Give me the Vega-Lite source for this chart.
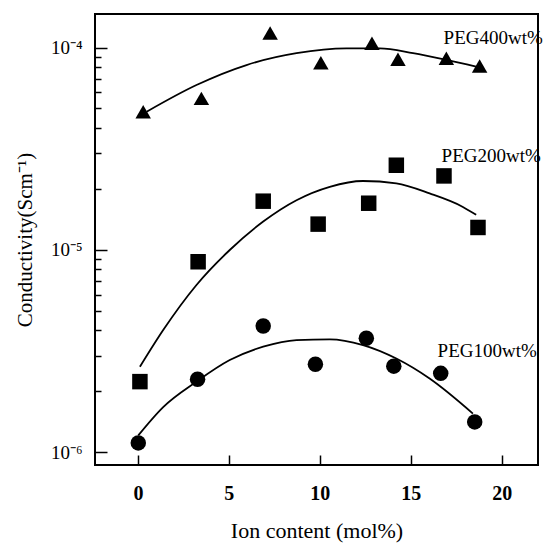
{
  "$schema": "https://vega.github.io/schema/vega-lite/v6.json",
  "width": 443,
  "height": 451,
  "autosize": "none",
  "padding": {"left": 95, "top": 14, "right": 7, "bottom": 79},
  "background": "white",
  "config": {
    "view": {"stroke": "black", "strokeWidth": 2},
    "font": "Liberation Serif",
    "axis": {"grid": false, "domain": false, "tickColor": "black", "labelColor": "black", "titleColor": "black", "tickWidth": 1.5}
  },
  "resolve": {"axis": {"x": "independent", "y": "independent"}},
  "datasets": {
    "points": [
      {"series": "PEG400", "x": 0.29, "y": 4.82e-5},
      {"series": "PEG400", "x": 3.49, "y": 5.61e-5},
      {"series": "PEG400", "x": 7.27, "y": 1.18e-4},
      {"series": "PEG400", "x": 10.06, "y": 8.42e-5},
      {"series": "PEG400", "x": 12.87, "y": 1.05e-4},
      {"series": "PEG400", "x": 14.30, "y": 8.75e-5},
      {"series": "PEG400", "x": 16.96, "y": 8.85e-5},
      {"series": "PEG400", "x": 18.79, "y": 8.11e-5},
      {"series": "PEG200", "x": 0.11, "y": 2.23e-6},
      {"series": "PEG200", "x": 3.31, "y": 8.73e-6},
      {"series": "PEG200", "x": 6.89, "y": 1.74e-5},
      {"series": "PEG200", "x": 9.91, "y": 1.34e-5},
      {"series": "PEG200", "x": 12.69, "y": 1.70e-5},
      {"series": "PEG200", "x": 14.21, "y": 2.62e-5},
      {"series": "PEG200", "x": 16.83, "y": 2.32e-5},
      {"series": "PEG200", "x": 18.70, "y": 1.29e-5},
      {"series": "PEG100", "x": 0.02, "y": 1.11e-6},
      {"series": "PEG100", "x": 3.28, "y": 2.29e-6},
      {"series": "PEG100", "x": 6.89, "y": 4.20e-6},
      {"series": "PEG100", "x": 9.76, "y": 2.72e-6},
      {"series": "PEG100", "x": 12.56, "y": 3.65e-6},
      {"series": "PEG100", "x": 14.07, "y": 2.66e-6},
      {"series": "PEG100", "x": 16.65, "y": 2.45e-6},
      {"series": "PEG100", "x": 18.52, "y": 1.41e-6}
    ],
    "curves": [
      {"series": "PEG400", "x": 0.48, "y": 4.82e-5},
      {"series": "PEG400", "x": 3.22, "y": 6.53e-5},
      {"series": "PEG400", "x": 5.97, "y": 8.20e-5},
      {"series": "PEG400", "x": 8.72, "y": 9.38e-5},
      {"series": "PEG400", "x": 11.47, "y": 9.91e-5},
      {"series": "PEG400", "x": 13.3, "y": 9.91e-5},
      {"series": "PEG400", "x": 15.13, "y": 9.38e-5},
      {"series": "PEG400", "x": 16.96, "y": 8.69e-5},
      {"series": "PEG400", "x": 18.6, "y": 8.05e-5},
      {"series": "PEG200", "x": 0.11, "y": 2.64e-6},
      {"series": "PEG200", "x": 1.39, "y": 4.01e-6},
      {"series": "PEG200", "x": 3.22, "y": 6.70e-6},
      {"series": "PEG200", "x": 5.05, "y": 9.98e-6},
      {"series": "PEG200", "x": 6.89, "y": 1.38e-5},
      {"series": "PEG200", "x": 8.72, "y": 1.76e-5},
      {"series": "PEG200", "x": 10.55, "y": 2.05e-5},
      {"series": "PEG200", "x": 12.38, "y": 2.19e-5},
      {"series": "PEG200", "x": 14.21, "y": 2.13e-5},
      {"series": "PEG200", "x": 16.04, "y": 1.90e-5},
      {"series": "PEG200", "x": 17.87, "y": 1.63e-5},
      {"series": "PEG200", "x": 18.6, "y": 1.49e-5},
      {"series": "PEG100", "x": 0.02, "y": 1.21e-6},
      {"series": "PEG100", "x": 1.39, "y": 1.67e-6},
      {"series": "PEG100", "x": 3.22, "y": 2.23e-6},
      {"series": "PEG100", "x": 5.05, "y": 2.85e-6},
      {"series": "PEG100", "x": 6.89, "y": 3.32e-6},
      {"series": "PEG100", "x": 8.72, "y": 3.58e-6},
      {"series": "PEG100", "x": 10.55, "y": 3.61e-6},
      {"series": "PEG100", "x": 12.38, "y": 3.38e-6},
      {"series": "PEG100", "x": 14.21, "y": 2.90e-6},
      {"series": "PEG100", "x": 16.04, "y": 2.31e-6},
      {"series": "PEG100", "x": 18.42, "y": 1.55e-6}
    ],
    "labels": [
      {"label": "PEG400wt%", "x": 16.81, "y": 1.115e-4},
      {"label": "PEG200wt%", "x": 16.70, "y": 2.91e-5},
      {"label": "PEG100wt%", "x": 16.48, "y": 3.16e-6}
    ]
  },
  "layer": [
    {
      "data": {"name": "curves"},
      "mark": {"type": "line", "color": "black", "strokeWidth": 1.8, "interpolate": "monotone"},
      "encoding": {
        "x": {
          "field": "x", "type": "quantitative",
          "scale": {"domain": [-2.36, 22], "nice": false, "zero": false},
          "axis": {
            "orient": "bottom",
            "title": "Ion content (mol%)",
            "values": [0, 5, 10, 15, 20],
            "ticks": false,
            "labelPadding": 18,
            "labelFontSize": 20,
            "labelFontWeight": "bold",
            "labelFont": "Liberation Serif",
            "titleFont": "Liberation Serif",
            "titleFontSize": 22,
            "titleFontWeight": "normal",
            "titlePadding": 17
          }
        },
        "y": {
          "field": "y", "type": "quantitative",
          "scale": {"type": "log", "domain": [8.63e-7, 1.466e-4], "nice": false},
          "axis": {
            "orient": "left",
            "title": "Conductivity(Scm⁻¹)",
            "values": [1e-6, 1e-5, 1e-4],
            "labelExpr": "datum.value < 3e-6 ? '10⁻⁶' : datum.value < 3e-5 ? '10⁻⁵' : '10⁻⁴'",
            "ticks": false,
            "labelPadding": 13,
            "labelFontSize": 19,
            "labelFont": "Liberation Serif",
            "titleFont": "Liberation Serif",
            "titleFontSize": 21,
            "titleFontWeight": "normal",
            "titlePadding": 15
          }
        },
        "detail": {"field": "series"}
      }
    },
    {
      "data": {"name": "points"},
      "mark": {"type": "point", "filled": true, "color": "black", "opacity": 1, "size": 240},
      "encoding": {
        "x": {
          "field": "x", "type": "quantitative",
          "axis": {"orient": "top", "offset": -451, "values": [0, 5, 10, 15, 20], "labels": false, "title": null, "tickSize": 10}
        },
        "y": {
          "field": "y", "type": "quantitative",
          "axis": {
            "orient": "right", "offset": -443, "labels": false, "title": null,
            "values": [1e-6, 2e-6, 3e-6, 4e-6, 5e-6, 6e-6, 7e-6, 8e-6, 9e-6, 1e-5, 2e-5, 3e-5, 4e-5, 5e-5, 6e-5, 7e-5, 8e-5, 9e-5, 1e-4],
            "tickSize": {"condition": {"test": "datum.value == 1e-6 || datum.value == 1e-5 || datum.value == 1e-4", "value": 12}, "value": 6}
          }
        },
        "shape": {
          "field": "series", "type": "nominal",
          "scale": {"domain": ["PEG400", "PEG200", "PEG100"], "range": ["triangle-up", "square", "circle"]},
          "legend": null
        }
      }
    },
    {
      "data": {"name": "labels"},
      "mark": {"type": "text", "align": "left", "baseline": "middle", "font": "Liberation Serif", "fontSize": 19, "color": "black", "clip": false},
      "encoding": {
        "x": {"field": "x", "type": "quantitative", "axis": null},
        "y": {"field": "y", "type": "quantitative", "axis": null},
        "text": {"field": "label"}
      }
    }
  ]
}
